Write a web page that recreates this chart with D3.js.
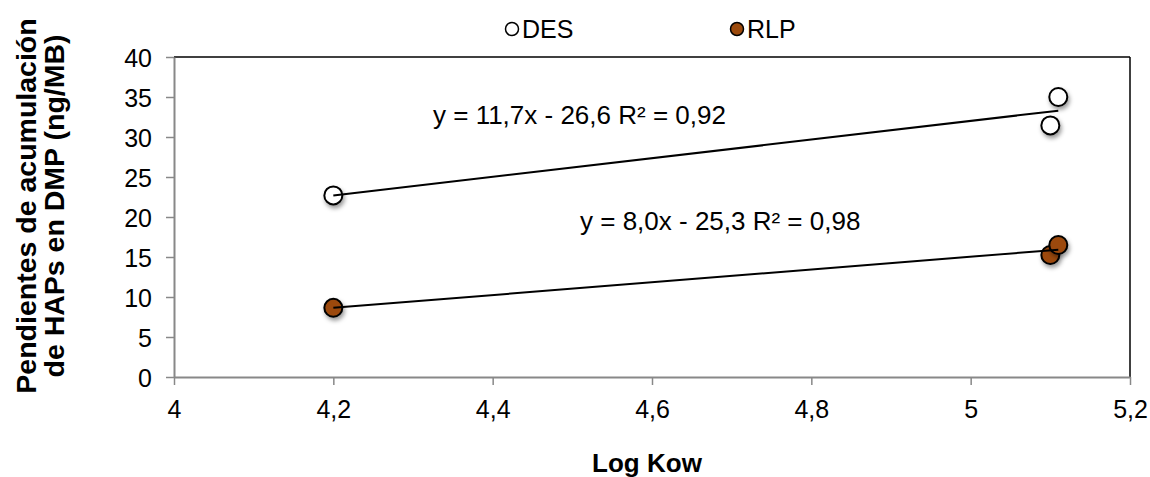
<!DOCTYPE html>
<html><head><meta charset="utf-8">
<script src="https://cdn.jsdelivr.net/npm/d3@7"></script>
<style>html,body{margin:0;padding:0;background:#fff;}svg{display:block;font-family:"Liberation Sans",Arial,sans-serif;}</style>
</head><body>
<svg id="chart" width="1150" height="477"></svg>
<script>
const seriesNames = ["DES", "RLP"];
const logKowDES = [4.2, 5.1, 5.11];
const valuesDES = [22.7, 31.45, 35.0];
const logKowRLP = [4.2, 5.1, 5.11];
const valuesRLP = [8.65, 15.25, 16.5];
const xTicks = [4, 4.2, 4.4, 4.6, 4.8, 5, 5.2];
const yTicks = [0, 5, 10, 15, 20, 25, 30, 35, 40];
const equationLabels = ["y = 11,7x - 26,6 R² = 0,92", "y = 8,0x - 25,3 R² = 0,98"];
const seriesFill = ["#ffffff", "#9c4a0c"];

const svg = d3.select("#chart");
const x = d3.scaleLinear().domain([4, 5.2]).range([174, 1130]);
const y = d3.scaleLinear().domain([0, 40]).range([377, 57]);
const fmt = d => String(d).replace(".", ",");

const defs = svg.append("defs");
const f = defs.append("filter").attr("id", "sh").attr("x", "-50%").attr("y", "-50%").attr("width", "200%").attr("height", "200%");
f.append("feDropShadow").attr("dx", 1.5).attr("dy", 3).attr("stdDeviation", 2).attr("flood-color", "#000").attr("flood-opacity", 0.4);

// plot border (top, right)
svg.append("line").attr("x1", x(4)).attr("x2", x(5.2)).attr("y1", y(40)).attr("y2", y(40)).attr("stroke", "#000").attr("stroke-width", 1.5);
svg.append("line").attr("x1", x(5.2)).attr("x2", x(5.2)).attr("y1", y(40)).attr("y2", y(0)).attr("stroke", "#000").attr("stroke-width", 1.5);

// axes
const xAxis = svg.append("g").attr("transform", `translate(0,${y(0)})`)
  .call(d3.axisBottom(x).tickValues(xTicks).tickFormat(fmt).tickSize(8).tickSizeOuter(0));
const yAxis = svg.append("g").attr("transform", `translate(${x(4)},0)`)
  .call(d3.axisLeft(y).tickValues(yTicks).tickSize(8).tickSizeOuter(0));
[xAxis, yAxis].forEach(a => {
  a.select(".domain").attr("stroke", "#888").attr("stroke-width", 2);
  a.selectAll(".tick line").attr("stroke", "#888").attr("stroke-width", 1.5);
  a.selectAll(".tick text").attr("fill", "#000").attr("font-size", 25).attr("font-family", "Liberation Sans, Arial, sans-serif");
});
xAxis.selectAll(".tick text").attr("dy", null).attr("y", 41);
yAxis.selectAll(".tick text").attr("x", -22).attr("dy", "0.36em");

// titles
svg.append("text").attr("x", 647).attr("y", 472).attr("text-anchor", "middle")
  .attr("font-size", 26).attr("font-weight", "bold").text("Log Kow");
const yt = svg.append("text").attr("transform", "translate(0,206) rotate(-90)")
  .attr("text-anchor", "middle").attr("font-size", 28.5).attr("font-weight", "bold");
yt.append("tspan").attr("x", 0).attr("y", 36).text("Pendientes de acumulación");
yt.append("tspan").attr("x", 0).attr("y", 64).text("de HAPs en DMP (ng/MB)");

// data
const series = [
  { name: seriesNames[0], xs: logKowDES, ys: valuesDES, fill: seriesFill[0], eq: equationLabels[0] },
  { name: seriesNames[1], xs: logKowRLP, ys: valuesRLP, fill: seriesFill[1], eq: equationLabels[1] }
];

series.forEach(s => {
  const pts = s.xs.map((v, i) => [v, s.ys[i]]);
  svg.append("g").selectAll("circle").data(pts).join("circle")
    .attr("cx", d => x(d[0])).attr("cy", d => y(d[1])).attr("r", 9)
    .attr("fill", s.fill).attr("stroke", "#000").attr("stroke-width", 2)
    .attr("filter", "url(#sh)");
});

series.forEach(s => {
  const n = s.xs.length;
  const mx = d3.mean(s.xs), my = d3.mean(s.ys);
  let sxy = 0, sxx = 0;
  for (let i = 0; i < n; i++) { sxy += (s.xs[i] - mx) * (s.ys[i] - my); sxx += (s.xs[i] - mx) ** 2; }
  const b = sxy / sxx, a = my - b * mx;
  const x0 = d3.min(s.xs), x1 = d3.max(s.xs);
  svg.append("line").attr("x1", x(x0)).attr("y1", y(a + b * x0)).attr("x2", x(x1)).attr("y2", y(a + b * x1))
    .attr("stroke", "#000").attr("stroke-width", 2);
});

// equation labels
svg.append("text").attr("x", 433).attr("y", 124).attr("font-size", 26).text(series[0].eq);
svg.append("text").attr("x", 580).attr("y", 230).attr("font-size", 26).text(series[1].eq);

// legend
const leg = [{ name: seriesNames[0], fill: seriesFill[0], cx: 512 }, { name: seriesNames[1], fill: seriesFill[1], cx: 737 }];
leg.forEach(l => {
  svg.append("circle").attr("cx", l.cx).attr("cy", 29).attr("r", 6.5).attr("fill", l.fill).attr("stroke", "#000").attr("stroke-width", 1.5);
  svg.append("text").attr("x", l.cx + 10).attr("y", 38).attr("font-size", 25).text(l.name);
});
</script>
</body></html>
